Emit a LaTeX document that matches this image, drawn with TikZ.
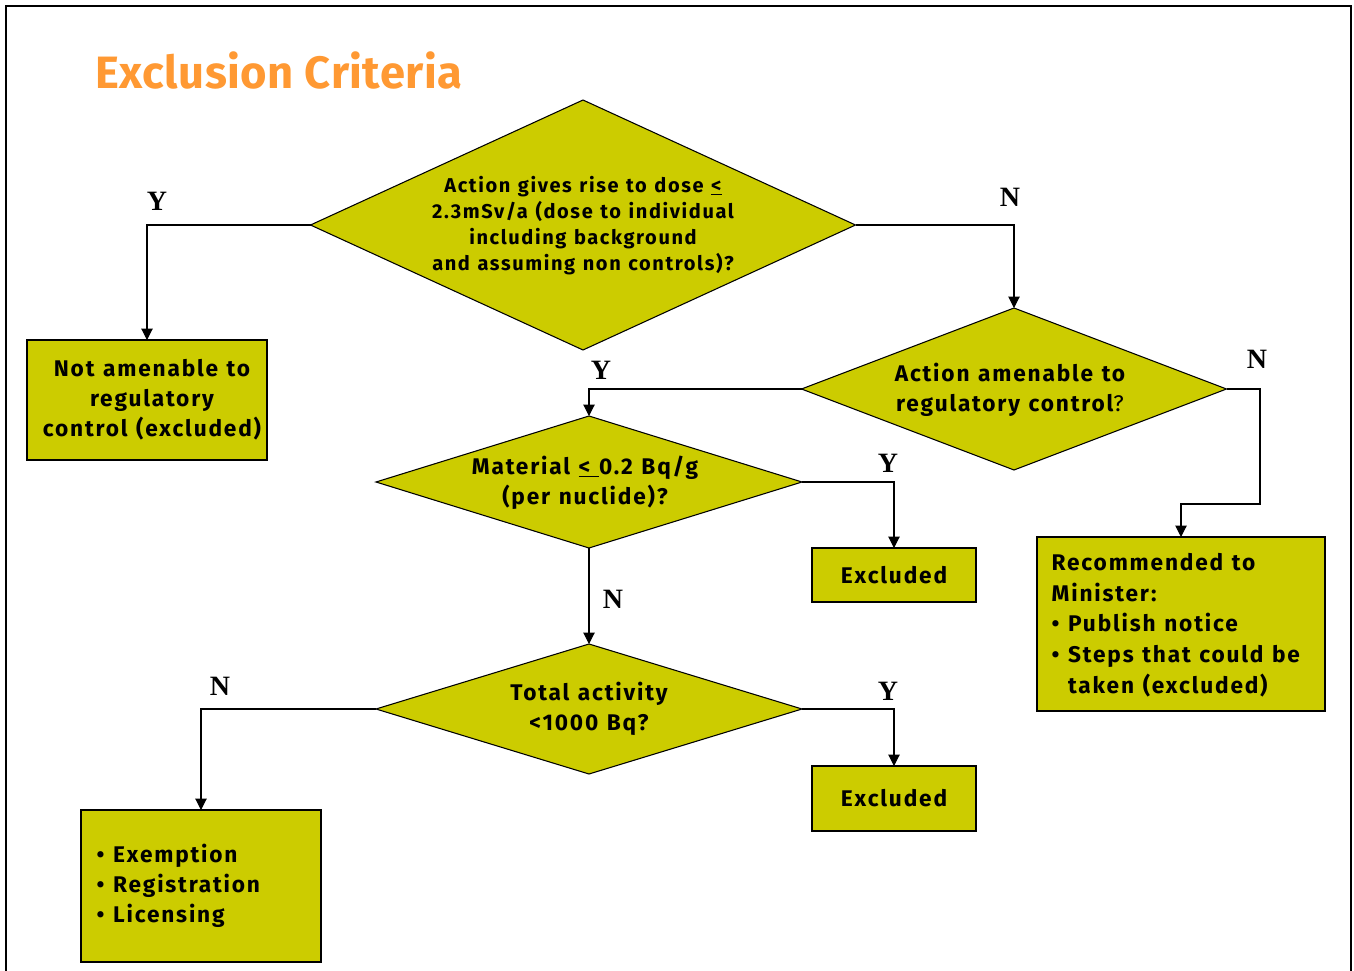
\documentclass[tikz,border=0pt]{standalone}
\usepackage{fontspec}
\setmainfont{Fira Sans}[LetterSpace=8,WordSpace=1.2]
\newfontfamily\titlefont{Fira Sans}[LetterSpace=1]
\newfontfamily\ynfont{Liberation Serif}
\usetikzlibrary{shapes.geometric,arrows.meta}
\definecolor{boxfill}{HTML}{CCCC00}
\definecolor{titleorange}{HTML}{FF9933}

\begin{document}
\begin{tikzpicture}[x=0.75pt,y=-0.75pt,
  decision/.style={diamond, draw=black, line width=0.8pt, fill=boxfill,
    inner sep=0pt, outer sep=0pt},
  outcome/.style={rectangle, draw=black, line width=0.8pt, fill=boxfill,
    inner sep=0pt, outer sep=0pt},
  qtext/.style={align=center, font=\bfseries\fontsize{17}{22.5}\selectfont},
  yn/.style={font=\ynfont\bfseries\fontsize{21}{21}\selectfont},
  flow/.style={draw=black, line width=0.8pt, -{Triangle[length=8.5pt,width=8.5pt]}},
]
\useasboundingbox (0,0) rectangle (1354,971);
% page frame
\draw[line width=1.6pt] (6,6) rectangle (1351,990);

% title
\node[anchor=base west, inner sep=0pt, text=titleorange,
      font=\titlefont\bfseries\fontsize{34}{34}\selectfont] (title) at (95,88) {Exclusion Criteria};

% decision diamonds
\node[decision, minimum width=408.75pt, minimum height=187.5pt] (d1) at (583,225) {};
\node[decision, minimum width=318.75pt, minimum height=121.5pt] (d2) at (1014,389) {};
\node[decision, minimum width=319.5pt, minimum height=99pt] (d3) at (589,482) {};
\node[decision, minimum width=319.5pt, minimum height=97.5pt] (d4) at (589,709) {};

\node[align=center, font=\bfseries\fontsize{15}{19.5}\selectfont] (t1) at (583,226)
  {Action gives rise to dose \underline{<}\\2.3mSv/a (dose to individual\\including background\\and assuming non controls)?};
\node[qtext] (t2) at (1010,390) {Action amenable to\\regulatory control{\mdseries ?}};
\node[qtext] (t3) at (585,483) {Material \underline{<~}0.2 Bq/g\\(per nuclide)?};
\node[qtext] (t4) at (589,709) {Total activity\\<1000 Bq?};

% outcome boxes
\node[outcome, minimum width=180pt, minimum height=90pt] (na) at (147,400) {};
\node[qtext] at (152,400) {Not amenable to\\regulatory\\control (excluded)};

\node[outcome, minimum width=123pt, minimum height=40.5pt] (ex1) at (894,575) {};
\node[qtext] at (894,575) {Excluded};

\node[outcome, minimum width=123pt, minimum height=48.75pt] (ex2) at (894,798.5) {};
\node[qtext] at (894,798.5) {Excluded};

\node[outcome, minimum width=216pt, minimum height=130.5pt] (rec) at (1181,624) {};
\node[qtext, align=left, anchor=west, font=\bfseries\fontsize{17}{23}\selectfont] (rect) at (1047,625)
  {Recommended to\\Minister:\\\textbullet~Publish notice\\\textbullet~Steps that could be\\\phantom{\textbullet~}taken (excluded)};

\node[outcome, minimum width=180pt, minimum height=114pt] (ctl) at (201,886) {};
\node[qtext, align=left, anchor=west] (ctlt) at (92,886)
  {\textbullet~Exemption\\\textbullet~Registration\\\textbullet~Licensing};

% connectors
\coordinate (bend) at (1260,504);
\draw[flow] (d1.west) -| (na.north);
\draw[flow] (d1.east) -| (d2.north);
\draw[flow] (d2.west) -| (d3.north);
\draw[flow] (d2.east) -| (bend) -| (rec.north);
\draw[flow] (d3.east) -| (ex1.north);
\draw[flow] (d3.south) -- (d4.north);
\draw[flow] (d4.east) -| (ex2.north);
\draw[flow] (d4.west) -| (ctl.north);

% branch labels
\node[yn] (y1) at (157,201) {Y};
\node[yn] (n1) at (1010,197) {N};
\node[yn] (y2) at (601,370) {Y};
\node[yn] (n2) at (1257,359) {N};
\node[yn] (y3) at (888,463) {Y};
\node[yn] (n3) at (613,599) {N};
\node[yn] (n4) at (220,686) {N};
\node[yn] (y4) at (888,691) {Y};
\end{tikzpicture}
\end{document}
